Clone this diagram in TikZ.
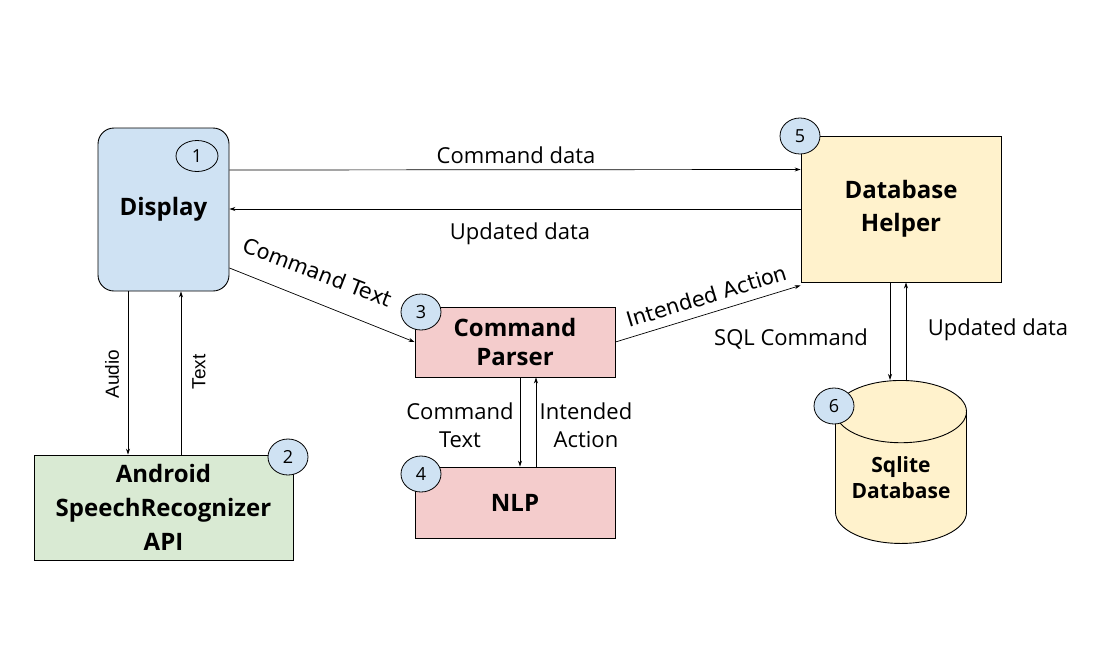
\documentclass[tikz,border=0pt]{standalone}
\usepackage{fontspec}
\setmainfont{Open Sans}
\newfontfamily\slantfont{DejaVu Sans}
\newfontfamily\arialfont{Liberation Sans}
\usetikzlibrary{arrows.meta,shapes.geometric,positioning}

\definecolor{dispblue}{HTML}{CFE2F3}
\definecolor{apigreen}{HTML}{D9EAD3}
\definecolor{parsepink}{HTML}{F4CCCC}
\definecolor{dbyellow}{HTML}{FFF2CC}

\begin{document}
\begin{tikzpicture}[x=1pt,y=-1pt,
    block/.style={draw, line width=0.9pt, align=center, inner sep=0pt,
        font=\fontsize{24}{32}\selectfont\bfseries},
    num/.style={draw, ellipse, line width=0.8pt, fill=dispblue, inner sep=0pt,
        minimum width=40pt, minimum height=36pt, font=\fontsize{18}{20}\selectfont},
    lbl/.style={align=center, inner sep=0pt, font=\fontsize{22}{28}\selectfont},
    arr/.style={-{Stealth[length=6pt,width=4pt]}, line width=0.7pt}]
    \useasboundingbox (0,0) rectangle (1107,659);

    % Blocks
    \node[block, fill=dispblue, rounded corners=16pt, minimum width=131pt, minimum height=163pt] (disp) at (163.5,209.5) {Display};
    \node[block, fill=apigreen, minimum width=259pt, minimum height=105pt, font=\fontsize{24}{34}\selectfont\bfseries] (api) at (163.5,507.5) {Android\\SpeechRecognizer\\API};
    \node[block, fill=parsepink, minimum width=200pt, minimum height=70pt, font=\fontsize{24}{29}\selectfont\bfseries] (parser) at (515,342) {Command\\Parser};
    \node[block, fill=parsepink, minimum width=200pt, minimum height=71pt] (nlp) at (515,502.5) {NLP};
    \node[block, fill=dbyellow, minimum width=200pt, minimum height=146pt, font=\fontsize{24}{33}\selectfont\bfseries] (helper) at (901,209) {Database\\Helper};
    \node[block, cylinder, shape border rotate=90, shape aspect=0.63, fill=dbyellow, minimum width=131pt, minimum height=163pt, anchor=north, font=\fontsize{21}{26}\selectfont\bfseries] (sqlite) at (901,380) {Sqlite\\Database};

    % Numbers
    \node[num, fill=none, minimum width=42pt, minimum height=31pt] (n1) at (197,156) {1};
    \node[num] (n2) at (288,457) {2};
    \node[num] (n3) at (421,312) {3};
    \node[num] (n4) at (421,474) {4};
    \node[num] (n5) at (800,136) {5};
    \node[num] (n6) at (834,406) {6};

    % Connectors
    \draw[arr] ([yshift=39.5pt]disp.east) -- ([yshift=39.5pt]helper.west);
    \draw[arr] (helper.west) -- (disp.east |- helper.west);
    \draw[arr] ([yshift=-58.5pt]disp.east) -- (parser.west);
    \draw[arr] (parser.east) -- ([yshift=-3pt]helper.south west);
    \draw[arr] ([xshift=-35.5pt]disp.south) -- ([xshift=-35.5pt]api.north);
    \draw[arr] ([xshift=17.5pt]api.north) -- ([xshift=17.5pt]disp.south);
    \draw[arr] ([xshift=5pt]parser.south) -- ([xshift=5pt]nlp.north);
    \draw[arr] ([xshift=21pt]nlp.north) -- ([xshift=21pt]parser.south);
    \draw[arr] ([xshift=-11pt]helper.south) -- ([xshift=-11pt]sqlite.north);
    \draw[arr] ([xshift=5pt]sqlite.north) -- ([xshift=5pt]helper.south);

    % Labels
    \node[lbl] (cmddata) at (516,155) {Command data};
    \node[lbl] (upddata) at (520,234) {Updated data};
    \node[lbl, font=\slantfont\fontsize{21}{24}\selectfont, rotate=-21] (cmdtext) at (318,272) {Command Text};
    \node[lbl, font=\slantfont\fontsize{21}{24}\selectfont, rotate=17] (intact) at (707,296) {Intended Action};
    \node[lbl, font=\arialfont\fontsize{19}{22}\selectfont, rotate=90] (audio) at (112,374) {Audio};
    \node[lbl, font=\arialfont\fontsize{19}{22}\selectfont, rotate=90] (textlbl) at (199,372) {Text};
    \node[lbl] (nlpin) at (460,425) {Command\\Text};
    \node[lbl] (nlpout) at (586,425) {Intended\\Action};
    \node[lbl] (sqlcmd) at (791,339) {SQL Command};
    \node[lbl] (sqlout) at (998,330) {Updated data};
\end{tikzpicture}
\end{document}
